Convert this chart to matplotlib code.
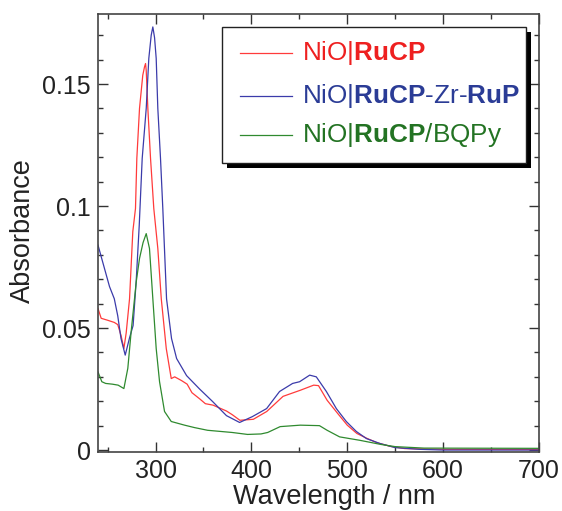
import numpy as np
import matplotlib
matplotlib.use("Agg")
import matplotlib.pyplot as plt
from matplotlib.patches import Rectangle
from matplotlib.ticker import MultipleLocator

plt.rcParams['font.family'] = ['Liberation Sans', 'DejaVu Sans']
plt.rcParams['mathtext.fontset'] = 'custom'
plt.rcParams['mathtext.rm'] = 'Liberation Sans'
plt.rcParams['mathtext.bf'] = 'Liberation Sans:bold'

# ---- data ----
wl_blue = [240, 243.3, 252, 257, 260.6, 264, 268.4, 272.9, 276.6, 279.8, 283, 286.1,
           290.3, 293, 295.5, 297.2, 299, 300.7, 302.4, 305.2, 307.6, 311.5, 316.7, 322, 332.4,
           346, 359.5, 374, 387.7, 401, 415.9, 429.4, 443, 450.3, 460.8, 467.7, 478.2,
           488.6, 499, 509.5, 520, 534, 550, 575, 600, 650, 700]
ab_blue = [0.084, 0.0793, 0.067, 0.062, 0.055, 0.0457, 0.0389, 0.046, 0.051, 0.069, 0.092, 0.1195,
           0.140, 0.1605, 0.170, 0.1734, 0.169, 0.1605, 0.140, 0.1195, 0.099, 0.062, 0.0457, 0.0375, 0.0305,
           0.025, 0.0199, 0.0141, 0.0113, 0.0137, 0.017, 0.024, 0.0273, 0.028, 0.0307, 0.030, 0.024,
           0.017, 0.0117, 0.0076, 0.0047, 0.0027, 0.001, 0.0003, 0.0, 0.0, 0.0]

wl_red = [240, 243.3, 250, 257, 260.6, 264, 267, 269.4, 272.9, 276.3, 279.1, 280.5, 283.3,
          286.7, 288.5, 289.6, 290.3, 292, 294.8, 298.2, 302.4, 306, 311.2, 316.4, 320, 327, 333,
          338, 346, 352, 360, 374, 380, 388, 402, 416, 433, 451, 465, 470, 479, 490, 500,
          510, 521, 531, 545, 560, 600, 700]
ab_red = [0.058, 0.054, 0.0532, 0.0523, 0.0514, 0.047, 0.0416, 0.048, 0.062, 0.0895, 0.099, 0.1195, 0.140,
          0.1536, 0.157, 0.1584, 0.1555, 0.140, 0.1195, 0.099, 0.0826, 0.062, 0.0416, 0.0293, 0.030, 0.0285, 0.027,
          0.0235, 0.021, 0.019, 0.0184, 0.016, 0.0145, 0.0122, 0.0126, 0.0158, 0.022, 0.0245, 0.0266, 0.0264, 0.0204, 0.015, 0.0102,
          0.0068, 0.0047, 0.003, 0.0015, 0.0006, 0.0003, 0.0002]

wl_green = [240, 244, 248, 255, 261, 267, 271.1, 274.6, 279.9, 283.3, 287, 290.3, 293.7, 297.2,
            300.7, 304.2, 309.4, 316.4, 330.3, 340.7, 354.3, 380, 396, 410, 417, 430, 451, 471,
            479, 492, 513, 535, 550, 580, 700]
ab_green = [0.032, 0.028, 0.0273, 0.027, 0.0266, 0.0252, 0.0335, 0.0486, 0.069, 0.0785, 0.085, 0.0887, 0.0826, 0.062,
            0.0416, 0.028, 0.0158, 0.0117, 0.0102, 0.0092, 0.0081, 0.0072, 0.0064, 0.0066, 0.0072, 0.0096, 0.0102, 0.010,
            0.0081, 0.0054, 0.004, 0.0023, 0.0014, 0.0008, 0.0007]

x_ticks = [300, 400, 500, 600, 700]
x_ticklabels = ['300', '400', '500', '600', '700']
y_ticks = [0, 0.05, 0.1, 0.15]
y_ticklabels = ['0', '0.05', '0.1', '0.15']

series_labels = [r'NiO|$\mathbf{RuCP}$', r'NiO|$\mathbf{RuCP}$-Zr-$\mathbf{RuP}$', r'NiO|$\mathbf{RuCP}$/BQPy']
line_colors = ['#ff3b3b', '#3b3baa', '#2f8a2f']
text_colors = ['#ee2020', '#2b3c96', '#237323']

# ---- figure ----
fig = plt.figure(figsize=(5.62, 5.11), dpi=100)
ax = fig.add_axes([98 / 562, 1 - 452 / 511, 441 / 562, 438 / 511])

ax.plot(wl_red, ab_red, color=line_colors[0], lw=0.9)
ax.plot(wl_blue, ab_blue, color=line_colors[1], lw=0.9)
ax.plot(wl_green, ab_green, color=line_colors[2], lw=0.9)

ax.set_xlim(240, 700)
ax.set_ylim(-0.0008, 0.1787)
ax.set_xticks(x_ticks)
ax.set_xticklabels(x_ticklabels)
ax.set_yticks(y_ticks)
ax.set_yticklabels(y_ticklabels)
ax.xaxis.set_minor_locator(MultipleLocator(50))
ax.yaxis.set_minor_locator(MultipleLocator(0.01))
ax.tick_params(which='both', direction='in', top=True, right=True, colors='#333333',
               labelcolor='#222222', labelsize=18, width=1.0)
ax.tick_params(which='major', length=7, pad=5)
ax.tick_params(which='minor', length=3.5)
for s in ax.spines.values():
    s.set_color('#444444')
    s.set_linewidth(1.2)

ax.set_xlabel('Wavelength / nm', fontsize=19.5, color='#222222')
ax.set_ylabel('Absorbance', fontsize=19.5, color='#222222')
ax.xaxis.set_label_coords(0.535, -0.073)
ax.yaxis.set_label_coords(-0.14, 0.505)

# ---- legend box with shadow ----
W, H = 441.0, 438.0
bx0, bx1 = (222 - 98) / W, (526 - 98) / W
by1, by0 = 1 - (27 - 14) / H, 1 - (163 - 14) / H
dx, dy = 4.5 / W, 4.5 / H
ax.add_patch(Rectangle((bx0 + dx, by0 - dy), bx1 - bx0, by1 - by0, transform=ax.transAxes,
                       facecolor='black', edgecolor='black', lw=0, zorder=5))
ax.add_patch(Rectangle((bx0, by0), bx1 - bx0, by1 - by0, transform=ax.transAxes,
                       facecolor='white', edgecolor='#222222', lw=1.0, zorder=6))
rows_y = [1 - (53 - 14) / H, 1 - (96 - 14) / H, 1 - (135 - 14) / H]
for lab, lc, tc, yy in zip(series_labels, line_colors, text_colors, rows_y):
    ax.plot([(240 - 98) / W, (292 - 98) / W], [yy, yy], transform=ax.transAxes,
            color=lc, lw=0.9, zorder=7)
    ax.text((302 - 98) / W, yy, lab, transform=ax.transAxes, color=tc, fontsize=18.8,
            va='center', ha='left', zorder=7)

fig.savefig('out.png', dpi=100)
